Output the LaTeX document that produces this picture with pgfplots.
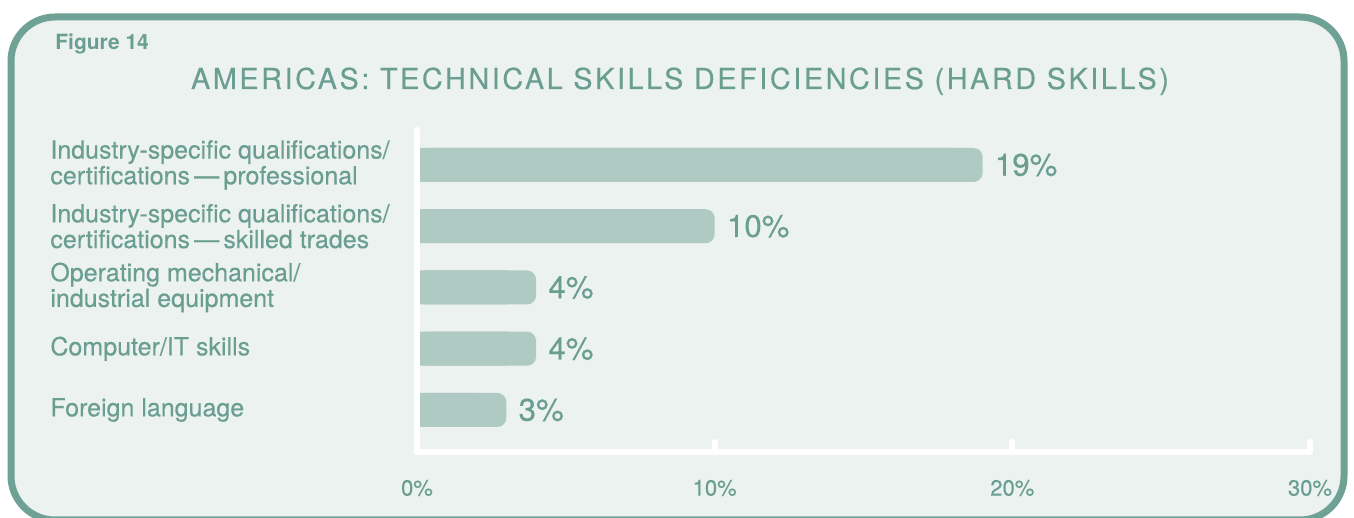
\documentclass[border=0pt]{standalone}
\usepackage{fontspec}
\setmainfont{TeX Gyre Heros}
\newfontfamily\medfont[FakeBold=0.35]{TeX Gyre Heros}
\usepackage{pgfplots}
\usepackage{pgfplotstable}
\pgfplotsset{compat=1.18}

\definecolor{framec}{RGB}{111,162,149}
\definecolor{bgc}{RGB}{236,242,240}
\definecolor{barc}{RGB}{175,202,195}
\definecolor{txtc}{RGB}{106,158,144}

% share of respondents, top category first (y = 4 ... 0)
\pgfplotstableread{
idx v
4 19
3 10
2 4
1 4
0 3
}\skills

\begin{document}
\begin{tikzpicture}[x=1pt,y=1pt]
\useasboundingbox (0,0) rectangle (677,259);
\clip (0,0) rectangle (677,259);
\draw[framec, line width=3.5pt, fill=bgc, rounded corners=22pt] (5.5,-1) rectangle (672,250.5);

\node[anchor=base west, inner sep=0, text=txtc,
      font=\bfseries\fontsize{10.5}{12}\selectfont] at (27.5,234) {Figure 14};
\node[anchor=base, inner sep=0, text=txtc,
      font=\medfont\addfontfeatures{LetterSpace=9}\fontsize{14.4}{16}\selectfont] at (340,214.5)
  {AMERICAS: TECHNICAL SKILLS DEFICIENCIES (HARD SKILLS)};

\begin{axis}[
  at={(208.5pt,33pt)}, anchor=south west,
  scale only axis, width=446.5pt, height=161pt,
  xmin=0, xmax=30, ymin=-0.686, ymax=4.571,
  axis x line*=bottom, axis y line*=left,
  axis line style={white, line width=3pt, line cap=round, -},
  axis on top,
  xtick={0,10,20,30},
  xticklabels={0\%,10\%,20\%,30\%},
  tick align=inside,
  major tick length=5pt,
  xtick style={white, line width=3pt, line cap=round},
  ytick={0,1,2,3,4},
  yticklabels={Foreign language,
    Computer/IT skills,
    Operating mechanical/\\industrial equipment,
    Industry-specific qualifications/\\certifications\,\textemdash\,skilled trades,
    Industry-specific qualifications/\\certifications\,\textemdash\,professional},
  ytick style={draw=none},
  xticklabel style={anchor=center, yshift=-18pt, inner sep=0, text=txtc,
    font=\medfont\fontsize{11}{13}\selectfont},
  yticklabel style={anchor=west, align=left, inner sep=0, xshift=-183.5pt, text=txtc,
    font=\medfont\fontsize{12.5}{11.7}\selectfont},
  /pgf/number format/assume math mode=true,
  clip=false,
]
\addplot[xbar, bar width=17pt, bar shift=0pt, fill=barc, draw=none, rounded corners=4.5pt,
  nodes near coords={\pgfmathprintnumber{\pgfplotspointmeta}\%},
  nodes near coords style={anchor=west, inner sep=0, xshift=6pt, text=txtc,
    font=\medfont\fontsize{15.6}{17}\selectfont}]
  table[x=v, y=idx]{\skills};
\addplot[xbar, bar width=17pt, bar shift=0pt, fill=barc, draw=none]
  table[x expr=\thisrow{v}-1, y=idx]{\skills};
\end{axis}
\end{tikzpicture}
\end{document}
